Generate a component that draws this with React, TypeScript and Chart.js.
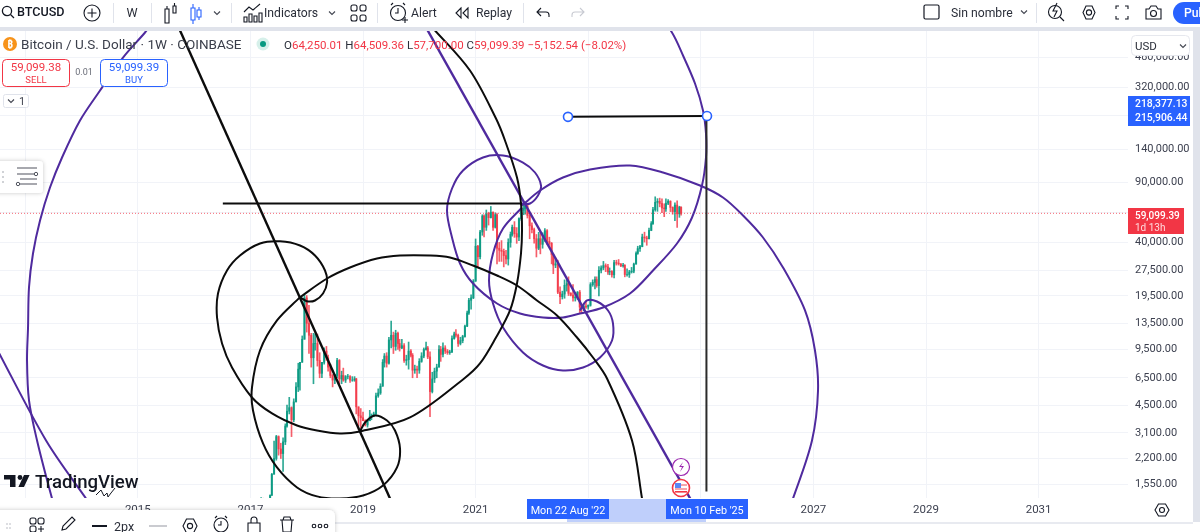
import React, { useEffect, useRef } from "react";
import Chart from "chart.js/auto";

// ---------- axes ----------
const yTickValues = [480000, 320000, 220000, 140000, 90000, 60000, 40000, 27500, 19500, 13500, 9500, 6500, 4500, 3100, 2200, 1550];
const yLabelsCovered = [220000, 60000];
const xTickYears = [2013, 2015, 2017, 2019, 2021, 2023, 2025, 2027, 2029, 2031];
const xLabelsCovered = [2013, 2023, 2025];
const xMin = 2012.552;
const xMax = 2032.588;
const yMin = 1294;
const yMax = 692600;

// ---------- candles (two-week samples) ----------
const candleYears = [
  2017.15,2017.19,2017.23,2017.27,2017.31,2017.35,2017.38,2017.42,2017.46,2017.50,2017.54,2017.58,2017.62,2017.65,2017.69,2017.73,2017.77,2017.81,2017.85,2017.88,2017.92,2017.96,
  2018.00,2018.04,2018.08,2018.12,2018.15,2018.19,2018.23,2018.27,2018.31,2018.35,2018.38,2018.42,2018.46,2018.50,2018.54,2018.58,2018.62,2018.65,2018.69,2018.73,2018.77,2018.81,2018.85,2018.88,2018.92,2018.96,
  2019.00,2019.04,2019.08,2019.12,2019.15,2019.19,2019.23,2019.27,2019.31,2019.35,2019.38,2019.42,2019.46,2019.50,2019.54,2019.58,2019.62,2019.65,2019.69,2019.73,2019.77,2019.81,2019.85,2019.88,2019.92,2019.96,
  2020.00,2020.04,2020.08,2020.12,2020.15,2020.19,2020.23,2020.27,2020.31,2020.35,2020.38,2020.42,2020.46,2020.50,2020.54,2020.58,2020.62,2020.65,2020.69,2020.73,2020.77,2020.81,2020.85,2020.88,2020.92,2020.96,
  2021.00,2021.04,2021.08,2021.12,2021.15,2021.19,2021.23,2021.27,2021.31,2021.35,2021.38,2021.42,2021.46,2021.50,2021.54,2021.58,2021.62,2021.65,2021.69,2021.73,2021.77,2021.81,2021.85,2021.88,2021.92,2021.96,
  2022.00,2022.04,2022.08,2022.12,2022.15,2022.19,2022.23,2022.27,2022.31,2022.35,2022.38,2022.42,2022.46,2022.50,2022.54,2022.58,2022.62,2022.65,2022.69,2022.73,2022.77,2022.81,2022.85,2022.88,2022.92,2022.96,
  2023.00,2023.04,2023.08,2023.12,2023.15,2023.19,2023.23,2023.27,2023.31,2023.35,2023.38,2023.42,2023.46,2023.50,2023.54,2023.58,2023.62,2023.65,2023.69,2023.73,2023.77,2023.81,2023.85,2023.88,2023.92,2023.96,
  2024.00,2024.04,2024.08,2024.12,2024.15,2024.19,2024.23,2024.27,2024.31,2024.35,2024.38,2024.42,2024.46,2024.50,2024.54,2024.58,2024.62,2024.65,
];
const opens = [
  1050,1190,1270,1040,1150,1210,1340,1780,2200,2950,2500,2350,2750,3400,4150,4350,3700,4700,5750,7300,8000,10900,
  19000,13500,11500,8500,10300,10300,8200,6900,8000,9300,8500,7500,6700,6300,6700,8200,6400,6700,6300,6600,6600,6300,6300,6400,4400,3900,
  3800,3650,3450,3650,3850,3900,4000,5100,5300,5800,8000,8700,7900,10800,11500,9900,11800,10300,9700,10000,8200,8300,9300,8800,7200,7300,
  7200,8100,8700,9500,9700,8600,5400,6400,7100,7500,9500,8900,9700,9300,9100,9200,11000,11700,11500,10300,10700,11300,13000,15500,18400,19000,
  23800,38000,33000,46000,57000,49000,59000,55800,60000,49000,58000,37000,36000,35500,33500,32000,40000,44500,49000,45000,43000,55000,61500,63000,65500,57500,
  50000,47500,42000,37000,42000,39000,42000,46800,40500,39500,34000,29500,30000,20500,19300,20000,22500,23000,20200,19700,19000,19200,20500,16800,16500,17000,
  16800,17200,22700,23400,24300,22400,27500,28400,29300,28800,26900,27100,25900,30500,30300,30000,29200,29400,26000,26000,26900,27200,29900,34500,36800,37800,
  43000,42500,42000,47000,51500,62000,68500,69500,67500,63500,62800,67700,69500,64000,60500,66000,58700,64250.01,
];
const highs = [
  1210,1300,1290,1200,1230,1350,1800,2780,3000,2980,2700,2900,3500,4500,5000,4400,4900,6100,7900,8000,11400,19800,
  19600,17200,11800,11800,11700,11700,9100,8000,9700,9900,8800,7800,6800,6800,8450,8300,7100,7400,6700,6800,6700,6600,6600,6450,4400,4300,
  4100,3700,3700,4200,4000,4100,5300,5600,6000,8300,9000,9100,11200,13900,12000,12300,12000,10900,10900,10300,8800,10500,9500,9000,7700,7600,
  8400,9100,9700,10500,9900,9200,7000,7400,7800,10000,9900,10400,10000,9500,9400,11400,12000,12400,11700,11200,11500,13200,15900,18900,19800,24300,
  41900,38500,47000,58000,58000,61800,60000,64800,60400,59500,59000,40000,41000,36600,36000,42000,46000,50500,52900,48800,55700,62900,67000,69000,66500,59000,
  52000,48500,44500,45800,45000,45500,48200,47500,42900,40000,34200,32400,31500,22000,20800,24200,24400,25200,20400,22700,20400,20700,21000,17200,17400,18300,
  17300,23300,24200,25200,25200,28900,29200,31000,30000,29800,28400,27400,31400,31500,31800,30100,30200,29700,28100,27500,28600,30300,35200,38000,38400,44700,
  45900,43500,48500,52900,64000,73800,72000,72500,71700,67200,71900,71000,70000,64500,68000,70000,65000,64509.36,
];
const lows = [
  1040,1130,930,1010,1120,1200,1340,1780,2150,2300,2200,1850,2650,3350,4000,2950,3600,4700,5400,5500,8000,10900,
  12000,9000,7500,6000,9400,7600,6500,6500,7800,8200,7100,6500,5750,6000,6500,6000,6000,6200,6100,6400,6100,6200,6200,4000,3400,3150,
  3650,3400,3350,3650,3700,3850,3950,5000,5200,5800,7500,7500,7800,9700,9000,9400,9500,9300,9600,8000,7700,7300,8600,6500,6900,6500,
  6900,8000,8500,9400,8400,3850,5300,6100,6500,7500,8100,8600,9000,8900,8900,9100,10900,11200,9900,10100,10400,11200,12900,15200,16300,18800,
  23700,28800,32000,44000,43000,47000,50500,55500,47000,48500,30000,31000,31000,28800,30000,29500,37500,43500,42800,39500,41000,53800,58000,58500,55500,42000,
  45500,39600,32900,36300,34300,37000,40500,39000,38500,30000,26300,28500,20100,17600,18700,18900,20800,19600,19500,18200,18200,18600,15600,15500,16000,16500,
  16300,17000,22200,21400,21900,19500,26600,27700,27000,26000,25900,25100,24800,29500,29500,28900,28700,25200,25400,25000,26500,26600,29900,34100,35500,37700,
  40200,38500,41900,46800,50900,60800,60700,64500,59600,56500,60700,66500,60500,58400,53500,49000,56000,57700,
];
const closes = [
  1190,1270,1040,1150,1210,1340,1780,2200,2950,2500,2350,2750,3400,4150,4350,3700,4700,5750,7300,8000,10900,19000,
  13500,11500,8500,10300,10300,8200,6900,8000,9300,8500,7500,6700,6300,6700,8200,6400,6700,6300,6600,6600,6300,6300,6400,4400,3900,3800,
  3650,3450,3650,3850,3900,4000,5100,5300,5800,8000,8700,7900,10800,11500,9900,11800,10300,9700,10000,8200,8300,9300,8800,7200,7300,7200,
  8100,8700,9500,9700,8600,5400,6400,7100,7500,9500,8900,9700,9300,9100,9200,11000,11700,11500,10300,10700,11300,13000,15500,18400,19000,23800,
  38000,33000,46000,57000,49000,59000,55800,60000,49000,58000,37000,36000,35500,33500,32000,40000,44500,49000,45000,43000,55000,61500,63000,65500,57500,50000,
  47500,42000,37000,42000,39000,42000,46800,40500,39500,34000,29500,30000,20500,19300,20000,22500,23000,20200,19700,19000,19200,20500,16800,16500,17000,16800,
  17200,22700,23400,24300,22400,27500,28400,29300,28800,26900,27100,25900,30500,30300,30000,29200,29400,26000,26000,26900,27200,29900,34500,36800,37800,43000,
  42500,42000,47000,51500,62000,68500,69500,67500,63500,62800,67700,69500,64000,60500,66000,58700,64250.01,59099.39,
];
const lastPrice = 59099.39;

// ---------- hand-drawn objects, in (year, price) ----------
const trendBlackYears = [2015.67, 2019.575];
const trendBlackPrices = [786600, 1095];
const trendPurpleYears = [2020.05, 2024.93];
const trendPurplePrices = [786600, 1095];
const levelBlackYears = [2016.51, 2021.82];
const levelBlackPrices = [67440, 67440];
const measureYears = [2022.641, 2025.11];
const measurePrices = [215906.44, 218377.13];
const dropYears = [2025.1, 2025.1];
const dropPrices = [218377.13, 1410];

const arcAYears = [2017.881,2018.0,2018.147,2018.29,2018.361,2018.325,2018.147,2017.881,2017.526,2017.17,2016.815,2016.584,2016.424,2016.407,2016.496,2016.673,2017.028,2017.384,2017.828,2018.183,2018.591,2018.947,2019.835,2020.776,2021.078,2021.362,2021.611,2021.735,2021.806,2021.824,2021.806,2021.735,2021.522,2021.362,2020.9,2020.279,2020.1];
const arcAPrices = [19180,18170,18345,20150,23360,27440,33560,38380,40620,39420,33560,27440,20150,14600,10300,7463,4989,4026,3427,3204,3078,3162,3815,6353,7875,11160,16040,23050,34470,46940,67450,95610,157100,211080,402000,687800,786600];
const arcBYears = [2017.881,2017.472,2017.17,2017.028,2017.046,2017.224,2017.472,2017.828,2018.183,2018.591,2019.0,2019.355,2019.604,2019.657,2019.568,2019.426,2019.213,2019.036,2018.947];
const arcBPrices = [19180,14030,9376,5706,4191,2691,1950,1491,1322,1286,1339,1532,1950,2516,3204,3664,3919,3568,3162];
const arcCYears = [2017.881,2018.361,2018.769,2019.249,2019.657,2020.19,2020.545,2020.954,2021.38,2021.735,2022.09,2022.446,2022.801,2023.085,2023.334,2023.778,2023.956,2023.991];
const arcCPrices = [19180,24640,28570,32240,33560,33560,32670,29340,25660,22430,18350,15000,11160,8535,6439,2801,1286,1095];
const arcDYears = [2015.217,2015.128,2014.737,2014.329,2013.973,2013.654,2013.44,2013.263,2013.138,2013.067,2013.05,2013.032,2013.067,2013.21,2013.476,2013.547];
const arcDPrices = [735500,669600,478670,307400,205500,125050,83600,53680,34470,21840,12770,8198,4793,2801,1286,1095];
const arcEYears = [2012.464,2013.37,2014.08,2014.24];
const arcEPrices = [10026,2801,1286,1095];
const arcFYears = [2021.806,2021.966,2022.108,2022.162,2022.055,2021.842,2021.487,2021.131,2020.776,2020.581,2020.492,2020.581,2020.723,2020.954,2021.38,2021.789,2022.197,2022.552,2022.854,2023.263,2023.742,2024.151,2024.577,2024.844,2025.021,2025.092,2025.092,2025.039,2024.897,2024.684,2024.488,2024.275];
const arcFPrices = [67450,67450,75090,85870,102250,116930,128450,125050,105030,82490,61400,42730,30150,23050,17620,15400,14600,14600,15400,16700,20150,27440,39420,55890,85870,125050,172600,235000,337670,491700,669600,808000];
const arcGYears = [2021.824,2021.487,2021.309,2021.238,2021.309,2021.487,2021.842,2022.197,2022.552,2022.908,2023.21,2023.423,2023.44,2023.352,2023.156,2022.979,2022.854];
const arcGPrices = [63920,48220,34470,23990,17620,12770,9127,7666,7169,7463,8535,10720,13470,16040,18100,18345,16040];
const arcHYears = [2021.824,2022.144,2022.552,2023.032,2023.742,2024.329,2024.986,2025.394,2025.75,2026.105,2026.46,2026.851,2027.028,2027.082,2026.975,2026.638,2026.549];
const arcHPrices = [65660,80300,95610,106450,112300,102250,85870,73100,57410,42730,28570,16040,9376,5480,2801,1286,1095];

const UP = "#089981";
const DOWN = "#f23645";
const UP_CANDLE = "rgba(8,153,129,0.85)";
const DOWN_CANDLE = "rgba(242,54,69,0.8)";
const BLACK = "#0c0c0c";
const PURPLE = "#4f2a9e";
const BLUE = "#2962ff";
const INK = "#2a2e39";
const FONT = "Roboto, 'Noto Sans', sans-serif";

const pts = (xs: number[], ys: number[]) => xs.map((x, i) => ({ x, y: ys[i] }));

const drawn = (xs: number[], ys: number[], color: string, width: number, tension = 0.33) => ({
  type: "line" as const,
  data: pts(xs, ys),
  borderColor: color,
  borderWidth: width,
  tension,
  pointRadius: 0,
  fill: false,
  order: 1,
});

function Label({ x, y, children, size = 12.2, color = INK, weight = 400, anchor = "start" }: any) {
  return (
    <text x={x} y={y} fontSize={size} fill={color} fontWeight={weight} textAnchor={anchor} fontFamily={FONT}>
      {children}
    </text>
  );
}

function Chrome() {
  const s = { fill: "none", stroke: "#131722", strokeWidth: 1.1 };
  const chev = (x: number, y: number, c = "#434651") => (
    <path d={`M${x - 3} ${y - 1.5}L${x} ${y + 1.5}L${x + 3} ${y - 1.5}`} fill="none" stroke={c} strokeWidth={1.1} />
  );
  const sep = (x: number) => <rect x={x} y={3} width={1} height={20} fill="#e0e3eb" />;
  return (
    <svg width={1200} height={532} style={{ position: "absolute", left: 0, top: 0, pointerEvents: "none" }}>
      <defs>
        <filter id="sh" x="-10%" y="-30%" width="120%" height="160%">
          <feDropShadow dx="0" dy="0" stdDeviation="2" floodColor="#000" floodOpacity="0.22" />
        </filter>
      </defs>
      {/* frames */}
      <rect x={0} y={0} width={1200} height={27} fill="#fff" />
      <rect x={0} y={27} width={1200} height={4} fill="#e0e3eb" />
      <rect x={1193} y={31} width={7} height={493} fill="#e0e3eb" />
      <rect x={0} y={522} width={1200} height={10} fill="#fff" />
      <rect x={0} y={522} width={1193} height={2} fill="#e8eaf0" />

      {/* top bar left */}
      <circle cx={7} cy={11} r={4.6} {...s} strokeWidth={1.3} />
      <path d="M10.5 14.5L14 18" {...s} strokeWidth={1.3} />
      <Label x={17} y={16} size={12.6} weight={500} color="#131722">BTCUSD</Label>
      <circle cx={92} cy={13} r={8} {...s} />
      <path d="M92 8.5V17.5M87.5 13H96.5" {...s} />
      {sep(113)}
      <Label x={132} y={17} size={12.5} anchor="middle">W</Label>
      {sep(151)}
      <path d="M165 9h4v14h-4zM167 6v3M173 6h3v7h-3zM174.5 3v3" {...s} />
      <path d="M191 8h4v12h-4zM193 4v4M193 20v4M197 10h4v7h-4zM199 7v3M199 17v3" fill="none" stroke={BLUE} strokeWidth={1.1} />
      {chev(217, 13)}
      {sep(231)}
      <path d="M244 22v-5h3v5zM249 22v-8h3v8zM254 22v-6h3v6zM259 22v-9h3v9zM244 12l5-5 4 3 7-6" {...s} />
      <Label x={264} y={17}>Indicators</Label>
      {chev(332, 13)}
      <rect x={351} y={5} width={6} height={6} rx={2} {...s} /><rect x={360} y={5} width={6} height={6} rx={2} {...s} />
      <rect x={351} y={15} width={6} height={6} rx={2} {...s} /><rect x={360} y={15} width={6} height={6} rx={2} {...s} />
      {sep(377)}
      <circle cx={398} cy={13} r={7.5} {...s} />
      <path d="M398 8v5h-3M391 5l2-2M405 5l-2-2M402 20h6M405 17v6" {...s} />
      <Label x={411} y={17}>Alert</Label>
      <path d="M461 8l-5 5 5 5zM468 8l-5 5 5 5z" {...s} />
      <Label x={476} y={17}>Replay</Label>
      {sep(523)}
      <path d="M541 8l-4 4 4 4M537 12h9a3 3 0 0 1 3 3v2" {...s} />
      <path d="M580 8l4 4-4 4M584 12h-9a3 3 0 0 0-3 3v2" fill="none" stroke="#c8cad2" strokeWidth={1.1} />

      {/* top bar right */}
      <rect x={924} y={5} width={15} height={14} rx={1.5} {...s} strokeWidth={1.2} />
      <Label x={951} y={17}>Sin nombre</Label>
      {chev(1024, 12)}
      <rect x={1036} y={3} width={1} height={20} fill="#e0e3eb" />
      <circle cx={1055} cy={12} r={6.5} {...s} />
      <path d="M1060 17l4 4M1057 3l-4 8h4l-3 6" {...s} />
      <path d="M1083 12.5l3-6.5h6l3 6.5-3 6.5h-6z" {...s} /><circle cx={1089} cy={12.5} r={2.6} {...s} />
      <path d="M1116 9V6h3M1125 6h3v3M1128 16v3h-3M1119 19h-3v-3" {...s} />
      <path d="M1146 9h3l2-3h5l2 3h3v10h-15z" {...s} /><circle cx={1153.5} cy={13.5} r={3} {...s} />
      <rect x={1173} y={2} width={40} height={22} rx={11} fill={BLUE} />
      <Label x={1184} y={17} color="#fff" weight={500}>Pub</Label>

      {/* legend row */}
      <circle cx={10} cy={44} r={7} fill="#f7931a" />
      <Label x={10} y={48} size={10} color="#fff" weight={700} anchor="middle">₿</Label>
      <Label x={21} y={49} size={13.5} color="#3a3e4a">Bitcoin / U.S. Dollar · 1W · COINBASE</Label>
      <circle cx={263} cy={44} r={6.5} fill="#d6f0ea" /><circle cx={263} cy={44} r={3} fill={UP} />
      <text x={284} y={49} fontSize={11.5} fontFamily={FONT} fill={DOWN}>
        <tspan fill={INK}>O</tspan>64,250.01 <tspan fill={INK}>H</tspan>64,509.36 <tspan fill={INK}>L</tspan>57,700.00 <tspan fill={INK}>C</tspan>59,099.39 −5,152.54 (−8.02%)
      </text>

      {/* order buttons */}
      <rect x={2.5} y={59.5} width={67} height={27} rx={4} fill="#fff" stroke={DOWN} />
      <Label x={36} y={71} size={11.5} color={DOWN} anchor="middle">59,099.38</Label>
      <Label x={36} y={83} size={9.5} color={DOWN} anchor="middle">SELL</Label>
      <Label x={84} y={75} size={9} color="#6a6d78" anchor="middle">0.01</Label>
      <rect x={100.5} y={59.5} width={67} height={27} rx={4} fill="#fff" stroke={BLUE} />
      <Label x={134} y={71} size={11.5} color={BLUE} anchor="middle">59,099.39</Label>
      <Label x={134} y={83} size={9.5} color={BLUE} anchor="middle">BUY</Label>
      <rect x={3.5} y={94.5} width={25} height={13} rx={2} fill="#fff" stroke="#e0e3eb" />
      {chev(11, 101)}
      <Label x={19} y={105} size={11} color="#434651">1</Label>

      {/* side tool */}
      <rect x={-6} y={161} width={49} height={32} rx={4} fill="#fff" filter="url(#sh)" />
      <path d="M17 168h20M17 174h18M20 179h17M20 184h17" stroke="#50535e" strokeWidth={1.1} />
      <circle cx={36} cy={174} r={1.7} fill="#fff" stroke="#50535e" /><circle cx={18} cy={184} r={1.7} fill="#fff" stroke="#50535e" />
      <circle cx={3} cy={172} r={0.8} fill="#9598a1" /><circle cx={3} cy={177} r={0.8} fill="#9598a1" /><circle cx={3} cy={182} r={0.8} fill="#9598a1" />

      {/* USD button */}
      <rect x={1131.5} y={35.5} width={58} height={20} rx={4} fill="#fff" stroke="#e6e8ee" />
      <Label x={1135} y={50} size={11.5} color="#2a2e39">USD</Label>
      {chev(1183, 46)}

      {/* price tags */}
      <rect x={1128} y={96} width={62} height={30} fill={BLUE} />
      <Label x={1135} y={107} size={10.4} color="#fff" weight={500}>218,377.13</Label>
      <Label x={1135} y={121} size={10.4} color="#fff" weight={500}>215,906.44</Label>
      <rect x={1128} y={208} width={56} height={26} fill={DOWN} />
      <Label x={1135} y={219} size={10} color="#fff" weight={500}>59,099.39</Label>
      <Label x={1135} y={231} size={10} color="#ffd9dc">1d 13h</Label>

      {/* time range */}
      <rect x={567} y={499} width={139} height={23} fill="#bfcffb" />
      <rect x={527} y={499} width={82} height={20} fill={BLUE} />
      <Label x={568} y={514} size={10.8} color="#fff" anchor="middle">Mon 22 Aug '22</Label>
      <rect x={666} y={499} width={82} height={20} fill={BLUE} />
      <Label x={707} y={514} size={10.8} color="#fff" anchor="middle">Mon 10 Feb '25</Label>
      <path d="M1155 510l3.5-6h7l3.5 6-3.5 6h-7z" {...s} /><circle cx={1162} cy={510} r={2.5} {...s} />

      {/* event icons */}
      <circle cx={681} cy={467} r={8.5} fill="#fff" stroke="#9c27b0" strokeWidth={1.2} />
      <path d="M683 462l-4 5h3l-2 5 4-6h-3z" fill="#9c27b0" />
      <circle cx={681} cy={488} r={8.5} fill="#fff" stroke={DOWN} strokeWidth={1.6} />
      <rect x={675} y={484} width={12} height={2} fill="#f6a6ac" />
      <rect x={675} y={488} width={12} height={2} fill="#f6a6ac" />
      <rect x={675} y={491} width={12} height={1.6} fill={DOWN} />
      <rect x={675} y={483} width={6} height={5} fill="#5b86f5" />

      {/* logo */}
      <path d="M4 475h11.5v12h-5.5v-7.5h-6z" fill="#131722" />
      <circle cx={20} cy={477.5} r={2.4} fill="#131722" />
      <path d="M24 475h5.6l-5.6 12h-5.6z" fill="#131722" />
      <Label x={35} y={488} size={18.6} color="#131722" weight={500}>TradingView</Label>
      <path d="M96 495l5-5 3 6 3-3 1 4 3-4 4-5" fill="none" stroke="#131722" strokeWidth={1} />

      {/* drawing toolbar */}
      <rect x={-8} y={510} width={343} height={34} rx={6} fill="#fff" filter="url(#sh)" />
      <circle cx={7} cy={524} r={0.8} fill="#b2b5be" /><circle cx={10} cy={524} r={0.8} fill="#b2b5be" /><circle cx={7} cy={528} r={0.8} fill="#b2b5be" /><circle cx={10} cy={528} r={0.8} fill="#b2b5be" />
      <rect x={30} y={518} width={6} height={6} rx={2} {...s} /><rect x={38} y={518} width={6} height={6} rx={2} {...s} />
      <rect x={30} y={526} width={6} height={6} rx={2} {...s} /><path d="M41 526v6M38 529h6" {...s} />
      <path d="M62 530l1-4 9-9 3 3-9 9z" {...s} />
      <rect x={92} y={525} width={15} height={2} fill="#131722" />
      <Label x={114} y={531} size={12.5}>2px</Label>
      <rect x={149} y={525.5} width={18} height={1} fill="#9598a1" />
      <path d="M183 526l3.5-7h7l3.5 7-3.5 7h-7z" {...s} /><circle cx={190} cy={526} r={2.6} {...s} />
      <circle cx={221} cy={525} r={7} {...s} /><path d="M221 521v4h-3M215 518l2-2M227 518l-2-2" {...s} />
      <path d="M248 532v-9h12v9M251 523v-3a3 3 0 0 1 6 0v3" {...s} />
      <path d="M280 520h14M283 520l1-3h6l1 3M282 520l1 12h8l1-12" {...s} />
      <circle cx={314} cy={526} r={1.8} {...s} /><circle cx={320} cy={526} r={1.8} {...s} /><circle cx={326} cy={526} r={1.8} {...s} />
    </svg>
  );
}

export default function App() {
  const ref = useRef<HTMLCanvasElement | null>(null);
  useEffect(() => {
    if (!ref.current) return;
    const barColors = candleYears.map((_, i) => (closes[i] >= opens[i] ? UP_CANDLE : DOWN_CANDLE));
    const chart = new Chart(ref.current, {
      type: "bar",
      data: {
        datasets: [
          {
            type: "bar",
            data: candleYears.map((x, i) => ({ x, y: [lows[i], highs[i]] })),
            backgroundColor: barColors,
            barThickness: 1,
            grouped: false,
            order: 11,
          },
          {
            type: "bar",
            data: candleYears.map((x, i) => ({ x, y: [Math.min(opens[i], closes[i]), Math.max(opens[i], closes[i])] })),
            backgroundColor: barColors,
            barThickness: 1.4,
            grouped: false,
            order: 10,
          },
          {
            type: "line",
            data: pts([xMin, xMax], [lastPrice, lastPrice]),
            borderColor: "rgba(242,54,69,0.75)",
            borderWidth: 1,
            borderDash: [1, 2],
            pointRadius: 0,
            order: 5,
          },
          drawn(trendBlackYears, trendBlackPrices, BLACK, 2.4, 0),
          drawn(levelBlackYears, levelBlackPrices, BLACK, 2, 0),
          drawn(measureYears, measurePrices, BLACK, 2, 0),
          drawn(dropYears, dropPrices, "#2b2b2b", 2, 0),
          drawn(arcAYears, arcAPrices, BLACK, 2),
          drawn(arcBYears, arcBPrices, BLACK, 2),
          drawn(arcCYears, arcCPrices, BLACK, 2),
          drawn(trendPurpleYears, trendPurplePrices, PURPLE, 2.4, 0),
          drawn(arcDYears, arcDPrices, PURPLE, 2),
          drawn(arcEYears, arcEPrices, PURPLE, 2),
          drawn(arcFYears, arcFPrices, PURPLE, 2),
          drawn(arcGYears, arcGPrices, PURPLE, 2),
          drawn(arcHYears, arcHPrices, PURPLE, 2),
          {
            type: "line",
            data: pts(measureYears, measurePrices),
            showLine: false,
            pointRadius: 4.5,
            pointBorderWidth: 1.6,
            pointBorderColor: BLUE,
            pointBackgroundColor: "#fff",
            order: 0,
          },
        ],
      } as any,
      options: {
        responsive: false,
        animation: false,
        devicePixelRatio: 1,
        events: [],
        layout: { autoPadding: false, padding: { top: 30, left: 0, right: 0, bottom: 0 } },
        elements: { line: { capBezierPoints: false } },
        plugins: { legend: { display: false }, tooltip: { enabled: false } },
        scales: {
          x: {
            type: "linear",
            min: xMin,
            max: xMax,
            bounds: "data",
            offset: false,
            grid: { color: "#f1f3f8", offset: false, drawTicks: false, lineWidth: 1 },
            border: { display: false },
            afterBuildTicks: (s: any) => {
              s.ticks = xTickYears.map((value) => ({ value }));
            },
            afterFit: (s: any) => {
              s.height = 34;
              s.paddingLeft = 0;
              s.paddingRight = 0;
            },
            ticks: {
              autoSkip: false,
              maxRotation: 0,
              padding: 5,
              color: "#3d4150",
              font: { family: FONT, size: 11.5 },
              callback: (v: any) => (xLabelsCovered.includes(v) ? "" : String(v)),
            },
          },
          y: {
            type: "logarithmic",
            position: "right",
            min: yMin,
            max: yMax,
            bounds: "data",
            grid: { color: "#f1f3f8", drawTicks: false, lineWidth: 1 },
            border: { display: false },
            afterBuildTicks: (s: any) => {
              s.ticks = yTickValues.map((value) => ({ value }));
            },
            afterFit: (s: any) => {
              s.width = 72;
              s.paddingTop = 0;
              s.paddingBottom = 0;
            },
            ticks: {
              autoSkip: false,
              padding: 7,
              color: "#3d4150",
              font: { family: FONT, size: 11 },
              callback: (v: any) =>
                yLabelsCovered.includes(v)
                  ? ""
                  : Number(v).toLocaleString("en-US", { minimumFractionDigits: 2, maximumFractionDigits: 2 }),
            },
          },
        },
      } as any,
    });
    return () => chart.destroy();
  }, []);
  return (
    <div style={{ position: "relative", width: 1200, height: 532, overflow: "hidden", background: "#fff" }}>
      <style>{"body{margin:0}"}</style>
      <canvas ref={ref} width={1200} height={532} style={{ display: "block", position: "absolute", left: 0, top: 0 }} />
      <Chrome />
    </div>
  );
}
